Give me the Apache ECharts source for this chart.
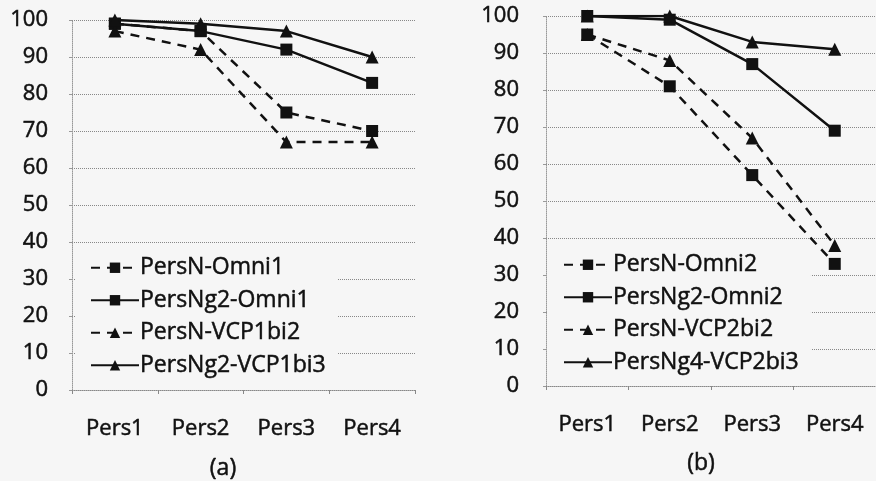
<!DOCTYPE html>
<html>
<head>
<meta charset="utf-8">
<script src="https://cdn.jsdelivr.net/npm/echarts@6/dist/echarts.min.js"></script>
<style>
html,body{margin:0;padding:0;background:#f6f6f6;}
#c{width:876px;height:481px;}
</style>
</head>
<body>
<div id="c"></div>
<script>
const categories = ['Pers1', 'Pers2', 'Pers3', 'Pers4'];
const yTicks = [0, 10, 20, 30, 40, 50, 60, 70, 80, 90, 100];

// Chart (a)
const namesA = ['PersN-Omni1', 'PersNg2-Omni1', 'PersN-VCP1bi2', 'PersNg2-VCP1bi3'];
const persNOmni1 = [99, 97, 75, 70];
const persNg2Omni1 = [99, 97, 92, 83];
const persNVCP1bi2 = [97, 92, 67, 67];
const persNg2VCP1bi3 = [100, 99, 97, 90];

// Chart (b)
const namesB = ['PersN-Omni2', 'PersNg2-Omni2', 'PersN-VCP2bi2', 'PersNg4-VCP2bi3'];
const persNOmni2 = [95, 81, 57, 33];
const persNg2Omni2 = [100, 99, 87, 69];
const persNVCP2bi2 = [95, 88, 67, 38];
const persNg4VCP2bi3 = [100, 100, 93, 91];

const captions = ['(a)', '(b)'];

const FONT = '"Open Sans"';
const INK = '#111';
const THICK = { textBorderColor: INK, textBorderWidth: 0.5 };

function mkSeries(name, data, idx, dashed, sym) {
  return {
    type: 'line', name: name, data: data,
    xAxisIndex: idx, yAxisIndex: idx,
    symbol: sym, symbolSize: sym === 'rect' ? 12 : 13,
    showAllSymbol: true,
    lineStyle: { color: INK, width: 2.5, type: dashed ? [9, 7] : 'solid' },
    itemStyle: { color: INK },
    emphasis: { disabled: true },
    animation: false
  };
}

function mkX(idx) {
  return {
    type: 'category', gridIndex: idx, data: categories, boundaryGap: true,
    axisLine: { lineStyle: { color: '#888', width: 1, type: 'dotted' } },
    axisTick: { show: true, length: 4, lineStyle: { color: '#888' } },
    axisLabel: Object.assign({ color: INK, fontFamily: FONT, fontSize: 22, margin: 28 }, THICK)
  };
}
function mkY(idx, margin) {
  return {
    type: 'value', gridIndex: idx, min: 0, max: 100, interval: 10,
    axisLine: { show: true, lineStyle: { color: '#999', width: 1, type: 'dotted' } },
    axisTick: { show: true, length: 3, lineStyle: { color: '#999' } },
    axisLabel: Object.assign({ color: INK, fontFamily: FONT, fontSize: 22, margin: margin,
      formatter: v => yTicks.includes(v) ? String(v) : '' }, THICK),
    splitLine: { show: true, lineStyle: { color: '#888', width: 1, type: 'dotted' } }
  };
}
function mkLegend(names, left, top) {
  return {
    data: names, orient: 'vertical', left: left, top: top,
    itemWidth: 48, itemHeight: 13, itemGap: 9,
    padding: [6, 12, 10, 15],
    backgroundColor: '#f6f6f6',
    selectedMode: false,
    textStyle: Object.assign({ color: INK, fontFamily: FONT, fontSize: 23, padding: [0, 0, 0, -4] }, THICK)
  };
}

const chart = echarts.init(document.getElementById('c'), null, { renderer: 'canvas' });
chart.setOption({
  backgroundColor: '#f6f6f6',
  animation: false,
  title: [
    { text: captions[0], left: 218, top: 452, textAlign: 'center',
      textStyle: Object.assign({ color: INK, fontFamily: FONT, fontSize: 23, fontWeight: 'normal' }, THICK) },
    { text: captions[1], left: 696, top: 447, textAlign: 'center',
      textStyle: Object.assign({ color: INK, fontFamily: FONT, fontSize: 23, fontWeight: 'normal' }, THICK) }
  ],
  grid: [
    { left: 72, right: 461, top: 20, bottom: 91 },
    { left: 546, right: -6, top: 16, bottom: 95 }
  ],
  xAxis: [mkX(0), mkX(1)],
  yAxis: [mkY(0, 24), mkY(1, 27)],
  legend: [mkLegend(namesA, 75, 250), mkLegend(namesB, 548, 247)],
  series: [
    mkSeries(namesA[0], persNOmni1, 0, true, 'rect'),
    mkSeries(namesA[1], persNg2Omni1, 0, false, 'rect'),
    mkSeries(namesA[2], persNVCP1bi2, 0, true, 'triangle'),
    mkSeries(namesA[3], persNg2VCP1bi3, 0, false, 'triangle'),
    mkSeries(namesB[0], persNOmni2, 1, true, 'rect'),
    mkSeries(namesB[1], persNg2Omni2, 1, false, 'rect'),
    mkSeries(namesB[2], persNVCP2bi2, 1, true, 'triangle'),
    mkSeries(namesB[3], persNg4VCP2bi3, 1, false, 'triangle')
  ]
});
</script>
</body>
</html>
